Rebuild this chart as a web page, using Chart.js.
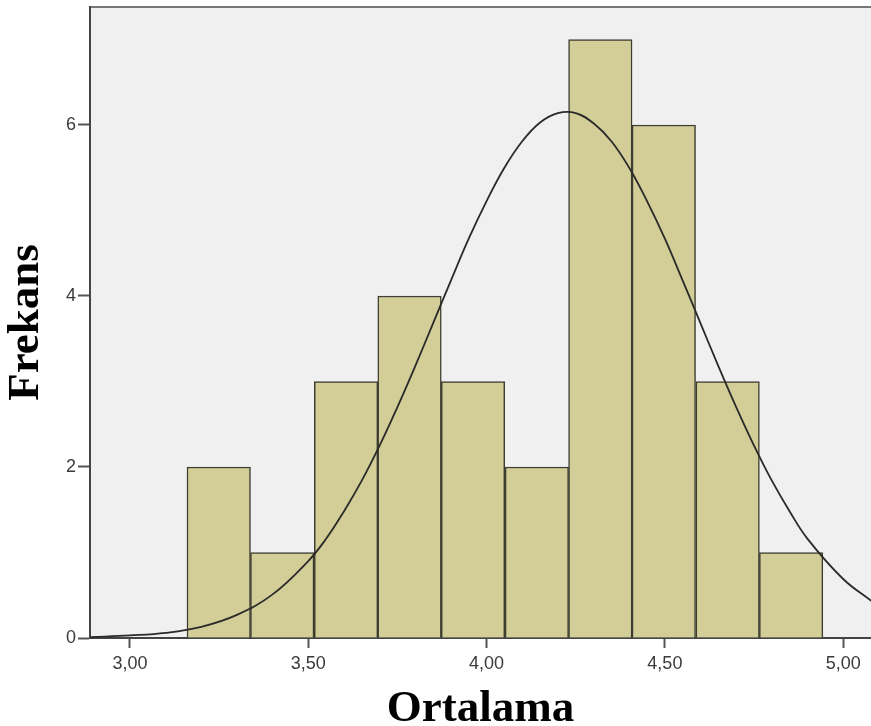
<!DOCTYPE html>
<html>
<head>
<meta charset="utf-8">
<script src="https://cdn.jsdelivr.net/npm/chart.js@4.4.1/dist/chart.umd.min.js"></script>
<style>
  body { margin: 0; background: #fff; }
  #wrap { width: 871px; height: 726px; }
</style>
</head>
<body>
<div id="wrap"><canvas id="hist" width="871" height="726"></canvas></div>
<script>
// histogram bins (centres) and counts
const binCenters = [3.249, 3.427, 3.606, 3.784, 3.962, 4.141, 4.319, 4.497, 4.676, 4.854];
const frequencies = [2, 1, 3, 4, 3, 2, 7, 6, 3, 1];

// normal curve
const curveX = [2.89, 3.00, 3.10, 3.20, 3.30, 3.40, 3.50, 3.55, 3.60, 3.65, 3.70, 3.75, 3.80, 3.85, 3.90, 3.95, 4.00, 4.05, 4.10, 4.15, 4.20, 4.25, 4.30, 4.35, 4.40, 4.45, 4.50, 4.55, 4.60, 4.65, 4.70, 4.75, 4.80, 4.85, 4.90, 5.00, 5.08];
const curveY = [0.01, 0.03, 0.06, 0.13, 0.27, 0.51, 0.90, 1.16, 1.48, 1.84, 2.25, 2.70, 3.18, 3.68, 4.18, 4.67, 5.11, 5.50, 5.81, 6.03, 6.14, 6.14, 6.02, 5.81, 5.50, 5.11, 4.67, 4.18, 3.68, 3.18, 2.70, 2.25, 1.84, 1.48, 1.16, 0.69, 0.43];

const xTicks = [3.0, 3.5, 4.0, 4.5, 5.0];
const yTicks = [0, 2, 4, 6];

const plotBg = {
    id: 'plotBg',
    beforeDraw(chart) {
        const { ctx, chartArea: a } = chart;
        ctx.save();
        ctx.fillStyle = '#f0f0f0';
        ctx.fillRect(a.left, a.top, a.right - a.left, a.bottom - a.top);
        ctx.strokeStyle = '#777';
        ctx.lineWidth = 2;
        ctx.beginPath();
        ctx.moveTo(a.left, a.top);
        ctx.lineTo(a.right, a.top);
        ctx.stroke();
        ctx.restore();
    }
};

const tickFont = { family: 'Liberation Sans, Arial', size: 18 };
const titleFont = { family: 'Liberation Serif, Times New Roman', size: 45, weight: 'bold', lineHeight: 1 };

new Chart(document.getElementById('hist').getContext('2d'), {
    data: {
        datasets: [
            {
                type: 'line',
                order: 0,
                data: curveX.map((x, i) => ({ x: x, y: curveY[i] })),
                borderColor: '#2a2a2a',
                borderWidth: 1.8,
                pointRadius: 0,
                tension: 0.4,
                fill: false
            },
            {
                type: 'bar',
                order: 1,
                data: binCenters.map((x, i) => ({ x: x, y: frequencies[i] })),
                backgroundColor: '#d3ce97',
                borderColor: '#3d3d30',
                borderWidth: 1.5,
                barPercentage: 1,
                categoryPercentage: 1
            }
        ]
    },
    options: {
        responsive: false,
        animation: false,
        layout: { padding: { top: 7, right: 0, left: 0, bottom: 0 } },
        plugins: { legend: { display: false }, tooltip: { enabled: false } },
        scales: {
            x: {
                type: 'linear',
                min: 2.888,
                max: 5.078,
                offset: false,
                afterBuildTicks: s => { s.ticks = xTicks.map(v => ({ value: v })); },
                afterFit: s => { s.height = 88; s.paddingLeft = 0; s.paddingRight = 0; },
                grid: { offset: false, drawOnChartArea: false, drawTicks: true, tickLength: 10, tickColor: '#555', tickWidth: 2 },
                border: { display: true, color: '#444', width: 2 },
                ticks: {
                    padding: 5,
                    color: '#3a3a3a',
                    font: tickFont,
                    maxRotation: 0,
                    callback: v => v.toFixed(2).replace('.', ',')
                },
                title: { display: true, text: 'Ortalama', color: '#000', font: titleFont, padding: { top: 0, bottom: -6 } }
            },
            y: {
                min: 0,
                max: 7.38,
                afterBuildTicks: s => { s.ticks = yTicks.map(v => ({ value: v })); },
                afterFit: s => { s.width = 90; s.paddingTop = 0; s.paddingBottom = 0; },
                grid: { offset: false, drawOnChartArea: false, drawTicks: true, tickLength: 12, tickColor: '#555', tickWidth: 2 },
                border: { display: true, color: '#444', width: 2 },
                ticks: { padding: 2, color: '#3a3a3a', font: tickFont },
                title: { display: true, text: 'Frekans', color: '#000', font: titleFont, padding: { top: 4, bottom: 0 } }
            }
        }
    },
    plugins: [plotBg]
});
</script>
</body>
</html>
